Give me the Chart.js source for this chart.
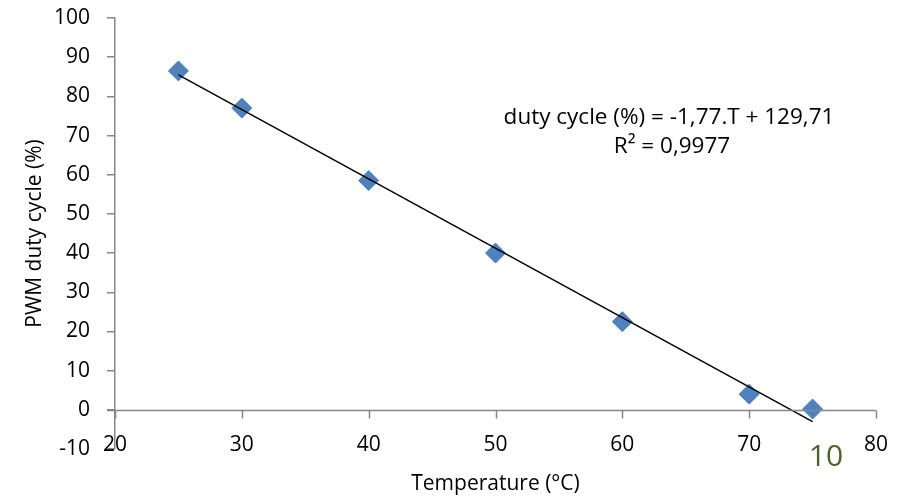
<!DOCTYPE html>
<html>
<head>
<meta charset="utf-8">
<script src="https://cdn.jsdelivr.net/npm/chart.js@4.4.0/dist/chart.umd.min.js"></script>
<style>
  html, body { margin: 0; padding: 0; background: #fff; }
  #wrap { width: 912px; height: 497px; }
</style>
</head>
<body>
<div id="wrap"><canvas id="c"></canvas></div>
<script>
// measured points
const temps = [25, 30, 40, 50, 60, 70, 75];
const duty = [86.5, 77, 58.5, 40, 22.5, 4, 0.2];

// linear trendline end points
const trendX = [25, 75];
const trendY = [85.5, -3.0];

const xTicks = [20, 30, 40, 50, 60, 70, 80];
const yTicks = [-10, 0, 10, 20, 30, 40, 50, 60, 70, 80, 90, 100];

const axisGrey = '#868686';
const font = "'Open Sans', 'Liberation Sans', sans-serif";

// x axis line sits on y = 0 (Excel style), its tick labels stay low near -10
const zeroAxis = {
    id: 'zeroAxis',
    afterDatasetsDraw(chart) {
        const ctx = chart.ctx;
        const x = chart.scales.x, y = chart.scales.y;
        const y0 = Math.round(y.getPixelForValue(0)) + 0.5;
        ctx.save();
        ctx.strokeStyle = axisGrey;
        ctx.lineWidth = 1.5;
        ctx.beginPath();
        ctx.moveTo(x.left - 8, y0);
        ctx.lineTo(x.right, y0);
        xTicks.forEach(v => {
            const px = Math.round(x.getPixelForValue(v)) + 0.5;
            ctx.moveTo(px, y0);
            ctx.lineTo(px, y0 + 8);
        });
        ctx.stroke();

        ctx.fillStyle = '#000';
        ctx.font = `21px ${font}`;
        ctx.textAlign = 'center';
        ctx.textBaseline = 'middle';
        const ly = y.getPixelForValue(-10) - 4;
        xTicks.forEach(v => ctx.fillText(String(v), x.getPixelForValue(v), ly));
        ctx.restore();
    }
};

const labels = {
    id: 'labels',
    afterDraw(chart) {
        const ctx = chart.ctx;
        ctx.save();
        ctx.fillStyle = '#000';
        ctx.textAlign = 'center';
        ctx.textBaseline = 'middle';
        ctx.font = `22.5px ${font}`;
        ctx.fillText('duty cycle (%) = -1,77.T + 129,71', 669, 118);
        ctx.fillText('R² = 0,9977', 672, 147);
        ctx.fillStyle = '#4f6228';
        ctx.font = `30px ${font}`;
        ctx.fillText('10', 826, 457);
        ctx.restore();
    }
};

new Chart(document.getElementById('c'), {
    type: 'scatter',
    data: {
        datasets: [
            {
                label: 'duty',
                data: temps.map((t, i) => ({ x: t, y: duty[i] })),
                pointStyle: 'rectRot',
                pointRadius: 10,
                pointBackgroundColor: '#4f81bd',
                pointBorderColor: '#4f81bd',
                pointBorderWidth: 1,
                order: 1
            },
            {
                label: 'trend',
                type: 'line',
                data: trendX.map((t, i) => ({ x: t, y: trendY[i] })),
                borderColor: '#000',
                borderWidth: 1.5,
                pointRadius: 0,
                fill: false,
                order: 0
            }
        ]
    },
    options: {
        responsive: true,
        maintainAspectRatio: false,
        animation: false,
        layout: { padding: { top: 18, right: 36, left: 22, bottom: 0 } },
        plugins: {
            legend: { display: false },
            tooltip: { enabled: false }
        },
        scales: {
            x: {
                type: 'linear',
                min: 20,
                max: 80,
                afterBuildTicks: s => { s.ticks = xTicks.map(v => ({ value: v })); },
                afterFit: s => { s.height = 48; s.paddingLeft = 0; s.paddingRight = 0; },
                grid: { display: false, drawTicks: false },
                border: { display: false },
                ticks: { display: false },
                title: {
                    display: true,
                    text: 'Temperature (°C)',
                    color: '#000',
                    font: { family: font, size: 21 },
                    padding: { top: 0, bottom: 0 }
                }
            },
            y: {
                type: 'linear',
                min: -10,
                max: 100,
                afterBuildTicks: s => { s.ticks = yTicks.map(v => ({ value: v })); },
                afterFit: s => { s.width = 93; s.paddingTop = 0; s.paddingBottom = 0; },
                grid: { drawOnChartArea: false, drawTicks: true, tickLength: 8, color: axisGrey, lineWidth: 1.5 },
                border: { display: true, color: axisGrey, width: 1.5 },
                ticks: { color: '#000', font: { family: font, size: 21 }, padding: 17 },
                title: {
                    display: true,
                    text: 'PWM duty cycle (%)',
                    color: '#000',
                    font: { family: font, size: 21 },
                    padding: { top: 0, bottom: 0 }
                }
            }
        }
    },
    plugins: [zeroAxis, labels]
});
</script>
</body>
</html>
